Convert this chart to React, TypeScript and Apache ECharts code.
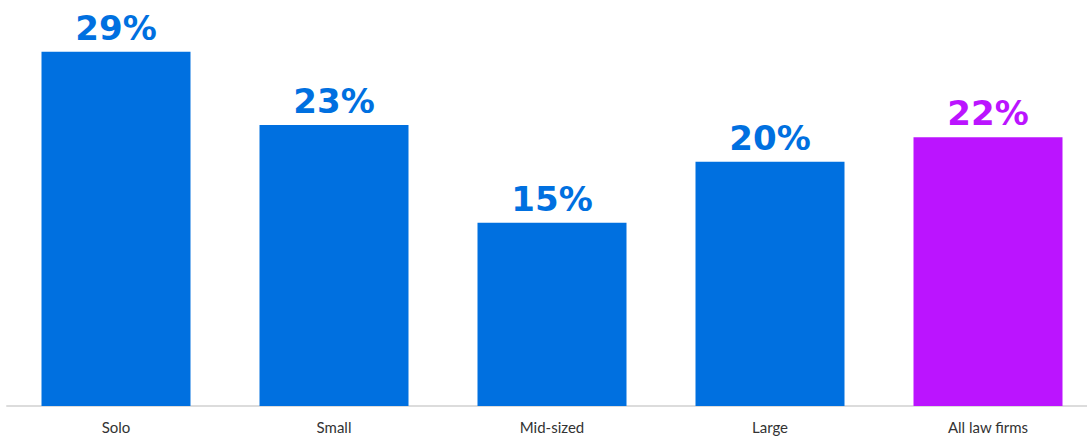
import React, { useEffect, useRef } from "react";
import * as echarts from "echarts";

const categories = ["Solo", "Small", "Mid-sized", "Large", "All law firms"];
const values = [29, 23, 15, 20, 22];
const barColors = ["#0070E0", "#0070E0", "#0070E0", "#0070E0", "#BB14FF"];

export default function App() {
  const ref = useRef<HTMLDivElement>(null);
  useEffect(() => {
    if (!ref.current) return;
    const chart = echarts.init(ref.current, null, { renderer: "svg" });
    chart.setOption({
      animation: false,
      grid: { left: 7, right: 3, top: 3, bottom: 32 },
      xAxis: {
        type: "category",
        data: categories,
        axisTick: { show: false },
        axisLine: { lineStyle: { color: "#dcdcdc", width: 2 } },
        axisLabel: {
          color: "#333",
          fontSize: 15,
          fontFamily: "Lato, 'Noto Sans', sans-serif",
          margin: 13,
        },
      },
      yAxis: {
        type: "value",
        min: 0,
        max: 33,
        show: false,
        splitLine: { show: false },
      },
      series: [
        {
          type: "bar",
          barWidth: 149,
          data: values.map((v, i) => ({
            value: v,
            itemStyle: { color: barColors[i] },
            label: { color: barColors[i] },
          })),
          label: {
            show: true,
            position: "top",
            distance: 7,
            formatter: "{c}%",
            fontSize: 34,
            fontWeight: "bold",
            fontFamily: "'DejaVu Sans', sans-serif",
          },
        },
      ],
    });
    return () => chart.dispose();
  }, []);
  return (
    <div style={{ position: "fixed", left: 0, top: 0, width: 1087, height: 438, overflow: "hidden", background: "#fff" }}>
      <div ref={ref} style={{ width: 1100, height: 438 }} />
    </div>
  );
}
